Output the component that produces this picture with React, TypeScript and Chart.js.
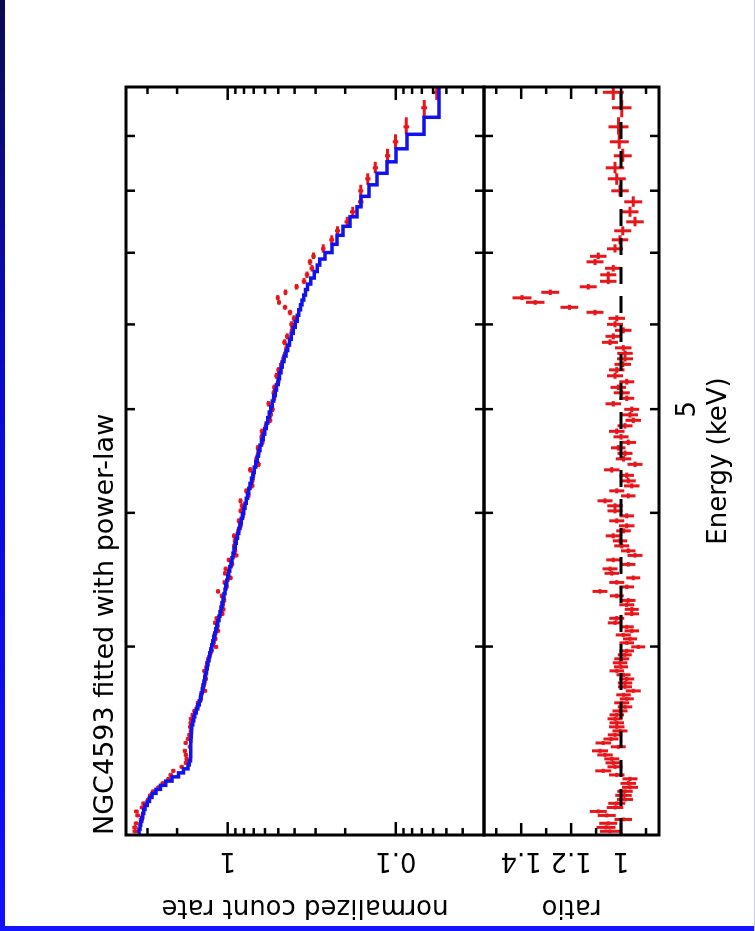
import React, { useEffect, useRef } from "react";
import { Chart, registerables } from "chart.js";

Chart.register(...registerables);

// ---------------- data ----------------
// bin centres, keV
const energyKeV: number[] = [
  2.016, 2.033, 2.051, 2.068, 2.086, 2.104, 2.122, 2.141, 2.159, 2.178,
  2.197, 2.216, 2.235, 2.257, 2.276, 2.296, 2.316, 2.336, 2.356, 2.376,
  2.397, 2.418, 2.438, 2.459, 2.481, 2.502, 2.524, 2.546, 2.568, 2.590,
  2.612, 2.635, 2.658, 2.681, 2.704, 2.727, 2.751, 2.774, 2.798, 2.823,
  2.847, 2.872, 2.897, 2.922, 2.947, 2.972, 2.998, 3.024, 3.050, 3.076,
  3.103, 3.130, 3.157, 3.188, 3.219, 3.250, 3.282, 3.313, 3.346, 3.378,
  3.411, 3.444, 3.478, 3.512, 3.546, 3.580, 3.615, 3.650, 3.686, 3.726,
  3.766, 3.807, 3.848, 3.890, 3.932, 3.974, 4.017, 4.061, 4.105, 4.149,
  4.194, 4.239, 4.285, 4.336, 4.388, 4.440, 4.493, 4.546, 4.601, 4.655,
  4.711, 4.767, 4.824, 4.881, 4.939, 4.998, 5.058, 5.118, 5.179, 5.240,
  5.303, 5.372, 5.441, 5.506, 5.572, 5.638, 5.705, 5.773, 5.848, 5.924,
  6.001, 6.079, 6.158, 6.225, 6.292, 6.353, 6.429, 6.506, 6.583, 6.676,
  6.770, 6.865, 6.947, 7.060, 7.198, 7.339, 7.482, 7.645, 7.811, 7.998,
  8.208, 8.404, 8.624, 8.888, 9.179, 9.563, 9.887,
];

// power-law model, normalized counts /s /keV
const modelRate: number[] = [
  3.402, 3.365, 3.329, 3.293, 3.248, 3.204, 3.156, 3.104, 3.012, 2.914,
  2.816, 2.674, 2.507, 2.335, 2.147, 1.965, 1.835, 1.722, 1.694, 1.667,
  1.660, 1.660, 1.660, 1.658, 1.654, 1.649, 1.642, 1.638, 1.615, 1.593,
  1.572, 1.540, 1.508, 1.477, 1.453, 1.436, 1.418, 1.401, 1.383, 1.370,
  1.354, 1.339, 1.323, 1.308, 1.294, 1.278, 1.261, 1.244, 1.227, 1.210,
  1.194, 1.178, 1.162, 1.144, 1.126, 1.110, 1.095, 1.081, 1.067, 1.053,
  1.039, 1.026, 1.012, 0.999, 0.985, 0.972, 0.957, 0.944, 0.931, 0.917,
  0.902, 0.889, 0.874, 0.860, 0.845, 0.831, 0.817, 0.803, 0.789, 0.776,
  0.762, 0.749, 0.736, 0.722, 0.708, 0.695, 0.681, 0.668, 0.655, 0.642,
  0.629, 0.615, 0.602, 0.590, 0.577, 0.566, 0.554, 0.543, 0.533, 0.522,
  0.512, 0.501, 0.491, 0.482, 0.473, 0.462, 0.450, 0.440, 0.429, 0.418,
  0.407, 0.396, 0.386, 0.378, 0.369, 0.361, 0.353, 0.344, 0.335, 0.321,
  0.306, 0.293, 0.283, 0.264, 0.2396, 0.2238, 0.206, 0.1873, 0.1701, 0.161,
  0.1443, 0.1294, 0.1128, 0.0997, 0.0858, 0.068, 0.0553,
];

// data / model
const dataRatio: number[] = [
  1.044, 1.060, 1.051, 0.991, 1.057, 1.091, 1.024, 1.017, 0.984, 0.990,
  0.984, 0.964, 0.971, 0.964, 1.017, 1.071, 1.024, 1.031, 1.037, 1.064,
  1.084, 1.011, 1.071, 1.040, 1.024, 1.004, 1.017, 1.017, 1.024, 1.017,
  1.004, 0.984, 0.997, 0.977, 0.990, 0.951, 0.984, 0.984, 0.977, 0.990,
  1.017, 1.000, 1.004, 0.997, 0.985, 0.977, 0.931, 0.977, 0.964, 0.991,
  0.957, 0.977, 1.024, 1.017, 0.957, 0.957, 0.977, 0.971, 1.017, 1.084,
  0.977, 1.017, 0.951, 1.037, 1.044, 0.971, 1.031, 0.944, 0.971, 0.997,
  1.004, 1.031, 0.990, 0.977, 1.017, 0.977, 1.024, 1.024, 1.064, 0.971,
  1.017, 0.957, 0.971, 0.977, 1.037, 0.944, 0.990, 0.984, 1.011, 0.971,
  1.000, 1.017, 0.984, 0.951, 0.964, 0.957, 1.031, 0.977, 0.997, 1.011,
  0.977, 1.024, 1.017, 0.993, 0.984, 0.984, 0.991, 1.044, 1.031, 0.991,
  1.024, 1.017, 1.104, 1.207, 1.344, 1.397, 1.284, 1.131, 1.051, 1.051,
  1.031, 1.104, 1.091, 1.024, 1.004, 0.993, 0.944, 0.964, 0.951, 1.004,
  1.017, 1.024, 0.993, 1.007, 1.010, 0.997, 1.031,
];

// 1-sigma error on the ratio
const ratioError: number[] = [
  0.040, 0.038, 0.036, 0.035, 0.036, 0.034, 0.033, 0.034, 0.032, 0.033,
  0.031, 0.032, 0.031, 0.030, 0.031, 0.032, 0.030, 0.031, 0.030, 0.031,
  0.032, 0.030, 0.031, 0.030, 0.029, 0.030, 0.031, 0.029, 0.030, 0.029,
  0.030, 0.029, 0.030, 0.028, 0.029, 0.030, 0.028, 0.029, 0.030, 0.028,
  0.029, 0.028, 0.029, 0.030, 0.028, 0.029, 0.028, 0.029, 0.028, 0.030,
  0.029, 0.028, 0.029, 0.030, 0.029, 0.028, 0.030, 0.029, 0.028, 0.030,
  0.029, 0.030, 0.028, 0.029, 0.030, 0.029, 0.028, 0.030, 0.029, 0.030,
  0.029, 0.030, 0.029, 0.031, 0.030, 0.029, 0.030, 0.031, 0.030, 0.029,
  0.030, 0.031, 0.030, 0.029, 0.031, 0.030, 0.031, 0.030, 0.029, 0.031,
  0.030, 0.031, 0.030, 0.031, 0.032, 0.030, 0.031, 0.030, 0.032, 0.031,
  0.030, 0.032, 0.031, 0.033, 0.032, 0.031, 0.033, 0.032, 0.031, 0.033,
  0.032, 0.033, 0.034, 0.036, 0.037, 0.038, 0.036, 0.034, 0.033, 0.032,
  0.033, 0.034, 0.033, 0.032, 0.033, 0.034, 0.035, 0.034, 0.036, 0.035,
  0.036, 0.037, 0.036, 0.038, 0.040, 0.039, 0.042,
];

const energyRange = [2, 10];
const countRange = [0.02987, 4.027];
const ratioRange = [0.848, 1.549];
const unityLevel = 1;

const energyTickValues = [3, 4, 5, 6, 7, 8, 9];
const energyLabelValues = [5];
const energyLabelTexts = ["5"];
const countMajorTicks = [1, 0.1];
const countMinorTicks = [3, 2, 0.9, 0.8, 0.7, 0.6, 0.5, 0.4, 0.3, 0.2, 0.09, 0.08, 0.07, 0.06, 0.05, 0.04];
const countLabelValues = [1, 0.1];
const countLabelTexts = ["1", "0.1"];
const ratioMajorTicks = [1, 1.2, 1.4];
const ratioMinorTicks = [0.9, 1.1, 1.3, 1.5];
const ratioLabelValues = [1, 1.2, 1.4];
const ratioLabelTexts = ["1", "1.2", "1.4"];

const titleText = "NGC4593 fitted with power-law";
const xTitleText = "Energy (keV)";
const countTitleText = "normalized count rate";
const ratioTitleText = "ratio";

// ---------------- styling ----------------
const RED = "rgb(232,22,26)";
const BLUE = "rgb(18,18,238)";
const FONT = '26px "DejaVu Sans"';
const TITLE_FONT = '27px "DejaVu Sans"';
const W = 931;
const H = 755;

// ---------------- derived plotting structures ----------------
const N = energyKeV.length;
const edges: number[] = [];
for (let i = 1; i < N; i++) edges[i] = Math.sqrt(energyKeV[i - 1] * energyKeV[i]);
edges[0] = (energyKeV[0] * energyKeV[0]) / edges[1];
edges[N] = (energyKeV[N - 1] * energyKeV[N - 1]) / edges[N - 1];

type P = { x: number; y: number | null };
const modelPts: P[] = [];
const countH: P[] = [];
const countV: P[] = [];
const ratioH: P[] = [];
const ratioV: P[] = [];
for (let i = 0; i < N; i++) {
  modelPts.push({ x: edges[i], y: modelRate[i] });
  const c = modelRate[i] * dataRatio[i];
  const ce = modelRate[i] * ratioError[i];
  const r = dataRatio[i];
  const re = ratioError[i];
  const e = energyKeV[i];
  countH.push({ x: edges[i], y: c }, { x: edges[i + 1], y: c }, { x: e, y: null });
  countV.push({ x: e, y: c - ce }, { x: e, y: c + ce }, { x: e, y: null });
  ratioH.push({ x: edges[i], y: r }, { x: edges[i + 1], y: r }, { x: e, y: null });
  ratioV.push({ x: e, y: r - re }, { x: e, y: r + re }, { x: e, y: null });
}
modelPts.push({ x: edges[N], y: modelRate[N - 1] });

const xspecDecor = {
  id: "xspecDecor",
  afterDatasetsDraw(chart: any) {
    const ctx: CanvasRenderingContext2D = chart.ctx;
    const xs = chart.scales.x;
    const ys = chart.scales.y;
    const yr = chart.scales.yr;
    const L = chart.chartArea.left;
    const R = chart.chartArea.right;
    ctx.save();
    ctx.strokeStyle = "#000";
    ctx.lineCap = "butt";
    const seg = (x1: number, y1: number, x2: number, y2: number) => {
      ctx.beginPath();
      ctx.moveTo(x1, y1);
      ctx.lineTo(x2, y2);
      ctx.stroke();
    };
    ctx.lineWidth = 2.5;
    for (const e of energyTickValues) {
      const px = xs.getPixelForValue(e);
      for (const s of [ys, yr]) {
        seg(px, s.top, px, s.top + 9);
        seg(px, s.bottom, px, s.bottom - 9);
      }
    }
    const yTicks = (scale: any, values: number[], len: number) =>
      values.forEach((v) => {
        const py = scale.getPixelForValue(v);
        seg(L, py, L + len, py);
        seg(R, py, R - len, py);
      });
    yTicks(ys, countMajorTicks, 13);
    yTicks(ys, countMinorTicks, 7);
    yTicks(yr, ratioMajorTicks, 12);
    yTicks(yr, ratioMinorTicks, 7);

    ctx.lineWidth = 3;
    ctx.strokeRect(L, ys.top, R - L, ys.bottom - ys.top);
    ctx.strokeRect(L, yr.top, R - L, yr.bottom - yr.top);

    ctx.fillStyle = "#000";
    ctx.textBaseline = "alphabetic";
    ctx.font = TITLE_FONT;
    ctx.textAlign = "left";
    ctx.fillText(titleText, L, ys.top - 13);

    ctx.font = FONT;
    ctx.textAlign = "center";
    energyLabelValues.forEach((v, i) =>
      ctx.fillText(energyLabelTexts[i], xs.getPixelForValue(v), yr.bottom + 36)
    );
    ctx.fillText(xTitleText, (L + R) / 2, yr.bottom + 67);

    const rot = (text: string, u: number, v: number) => {
      ctx.save();
      ctx.translate(u, v);
      ctx.rotate(-Math.PI / 2);
      ctx.textAlign = "center";
      ctx.fillText(text, 0, 0);
      ctx.restore();
    };
    countLabelValues.forEach((v, i) => rot(countLabelTexts[i], L - 18, ys.getPixelForValue(v)));
    ratioLabelValues.forEach((v, i) => rot(ratioLabelTexts[i], L - 18, yr.getPixelForValue(v)));
    rot(countTitleText, L - 65, (ys.top + ys.bottom) / 2);
    rot(ratioTitleText, L - 65, (yr.top + yr.bottom) / 2);
    ctx.restore();
  },
};

export default function App() {
  const ref = useRef<HTMLCanvasElement>(null);
  useEffect(() => {
    const canvas = ref.current;
    if (!canvas) return;
    const errLine = (data: P[], axis: string) => ({
      type: "line" as const,
      data,
      yAxisID: axis,
      borderColor: RED,
      borderWidth: 3,
      pointRadius: 0,
      spanGaps: false,
      fill: false,
      order: 1,
    });
    const chart = new Chart(canvas, {
      type: "line",
      data: {
        datasets: [
          {
            type: "line",
            label: "model",
            data: modelPts,
            yAxisID: "y",
            borderColor: BLUE,
            borderWidth: 3.5,
            stepped: "after",
            pointRadius: 0,
            fill: false,
            order: 0,
          },
          {
            type: "line",
            label: "unity",
            data: [
              { x: energyRange[0], y: unityLevel },
              { x: energyRange[1], y: unityLevel },
            ],
            yAxisID: "yr",
            borderColor: "#000",
            borderWidth: 3,
            borderDash: [17, 12],
            pointRadius: 0,
            fill: false,
            order: 0,
          },
          errLine(countH, "y"),
          errLine(countV, "y"),
          errLine(ratioH, "yr"),
          errLine(ratioV, "yr"),
        ] as any,
      },
      options: {
        animation: false,
        responsive: false,
        devicePixelRatio: 1,
        layout: { padding: { left: 96, right: 87, top: 126, bottom: 96 } },
        plugins: {
          legend: { display: false },
          tooltip: { enabled: false },
          title: { display: false },
        },
        elements: { point: { radius: 0 }, line: { tension: 0 } },
        scales: {
          x: {
            type: "logarithmic",
            min: energyRange[0],
            max: energyRange[1],
            bounds: "data",
            display: false,
          },
          yr: {
            type: "linear",
            min: ratioRange[0],
            max: ratioRange[1],
            bounds: "data",
            position: "left",
            stack: "panels",
            stackWeight: 175,
            display: false,
          },
          y: {
            type: "logarithmic",
            min: countRange[0],
            max: countRange[1],
            bounds: "data",
            position: "left",
            stack: "panels",
            stackWeight: 358,
            display: false,
          },
        } as any,
      },
      plugins: [xspecDecor],
    } as any);
    return () => chart.destroy();
  }, []);

  return (
    <div
      style={{
        position: "absolute",
        left: 0,
        top: 0,
        width: 755,
        height: 931,
        background: "#ffffff",
        overflow: "hidden",
      }}
    >
      <div
        style={{
          position: "absolute",
          left: 0,
          top: 0,
          width: W,
          height: H,
          transformOrigin: "0 0",
          transform: `rotate(-90deg) translateX(-${W}px)`,
        }}
      >
        <canvas ref={ref} width={W} height={H} style={{ display: "block", width: W, height: H }} />
      </div>
      <div
        style={{
          position: "absolute",
          left: 0,
          top: 0,
          width: 5,
          height: 931,
          background: "linear-gradient(#0b0b52, #0a0ad8 45%, #1010ff)",
        }}
      />
      <div
        style={{
          position: "absolute",
          left: 0,
          bottom: 0,
          width: 755,
          height: 5,
          background: "#1414ff",
        }}
      />
      <div
        style={{
          position: "absolute",
          right: 0,
          top: 0,
          width: 1,
          height: 931,
          background: "#c8c8f0",
        }}
      />
    </div>
  );
}
